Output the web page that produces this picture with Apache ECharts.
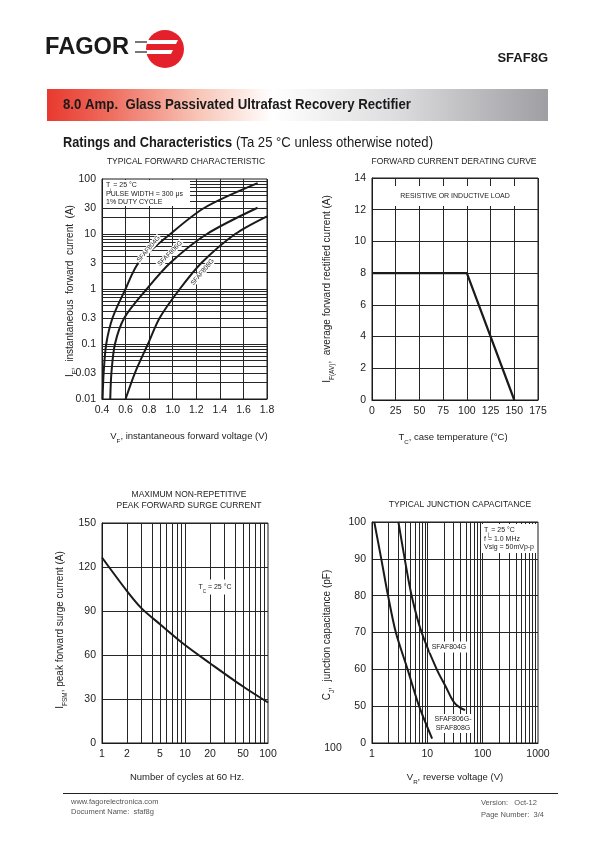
<!DOCTYPE html>
<html><head><meta charset="utf-8">
<script src="https://cdn.jsdelivr.net/npm/echarts@6/dist/echarts.min.js"></script>
<style>html,body{margin:0;padding:0;background:#fff}#c{width:595px;height:842px}</style>
</head><body><div id="c"></div>
<script>
// ---------- DATA ----------
// Chart 1: typical forward characteristic (V, A)
const fwdVoltage804 = [0.405, 0.414, 0.436, 0.49, 0.60, 0.71, 0.98, 1.27, 1.72];
const fwdCurrent804 = [0.01, 0.03, 0.1, 0.3, 1, 3, 10, 30, 84];
const fwdVoltage806 = [0.47, 0.48, 0.51, 0.59, 0.78, 0.98, 1.29, 1.72];
const fwdCurrent806 = [0.01, 0.03, 0.1, 0.3, 1, 3, 10, 30];
const fwdVoltage808 = [0.60, 0.68, 0.79, 0.89, 1.06, 1.245, 1.53, 1.80];
const fwdCurrent808 = [0.01, 0.03, 0.1, 0.3, 1, 3, 10, 21];
const fwdYTicks = [0.01, 0.03, 0.1, 0.3, 1, 3, 10, 30, 100];
const fwdYLabels = ['0.01', '0.03', '0.1', '0.3', '1', '3', '10', '30', '100'];
const fwdXLabels = ['0.4', '0.6', '0.8', '1.0', '1.2', '1.4', '1.6', '1.8'];
// Chart 2: derating curve
const derateTemp = [0, 100, 150];
const derateCurrent = [8, 8, 0];
// Chart 3: surge current
const surgeCycles = [1, 2, 3, 5, 10, 20, 50, 100];
const surgeCurrent = [126.5, 103.6, 91.8, 81, 66.8, 54.4, 38.5, 27.6];
const surgeXTicks = [1, 2, 5, 10, 20, 50, 100];
const surgeXLabels = ['1', '2', '5', '10', '20', '50', '100'];
// Chart 4: junction capacitance
const capVolt804 = [3.0, 3.9, 5.2, 7.9, 14.8, 22, 27, 32, 39, 48];
const capPf804 = [100, 90, 80, 70, 60, 55, 52.3, 50.6, 49.6, 48.9];
const capVolt806 = [1.1, 1.47, 1.95, 2.7, 4.4, 7.1, 12.2];
const capPf806 = [100, 90, 80, 70, 60, 50, 41.2];
const capYTicks = [40, 50, 60, 70, 80, 90, 100];
const capYLabels = ['0', '50', '60', '70', '80', '90', '100'];
const capXTicks = [1, 10, 100, 1000];
const capXLabels = ['1', '10', '100', '1000'];

// ---------- HELPERS ----------
const INK = '#1a1a1a', GRIDC = '#262626', TXT = '#222';
const FONT = "'Liberation Sans', Arial, sans-serif";
function pairs(xs, ys) { return xs.map((x, i) => [x, ys[i]]); }
function logLines(lo, hi) { // grid positions m*10^e strictly inside (lo, hi)
  const out = [];
  for (let e = Math.floor(Math.log10(lo)); e <= Math.ceil(Math.log10(hi)); e++) {
    for (let m = 1; m <= 9; m++) {
      const v = +(m * Math.pow(10, e)).toPrecision(6);
      if (v > lo * 1.0001 && v < hi * 0.9999) out.push(v);
    }
  }
  return out;
}
function nearestLabel(v, ticks, labels) {
  let bi = 0, bd = Infinity;
  ticks.forEach((t, i) => { const d = Math.abs(Math.log(Math.abs(v) + 1e-9) - Math.log(t + 1e-9)); if (d < bd) { bd = d; bi = i; } });
  return labels[bi];
}
const cnv = document.createElement('canvas').getContext('2d');
function measure(text, font) { cnv.font = font; return cnv.measureText(text).width; }

function txt(text, x, y, o) {
  o = o || {};
  return {
    type: 'text', x: x, y: y, z: 100, rotation: o.rot || 0, scaleX: o.sx || 1,
    style: {
      text: text, fill: o.color || TXT,
      font: (o.weight || 'normal') + ' ' + (o.size || 10) + 'px ' + FONT,
      align: o.align || 'center', verticalAlign: o.va || 'middle',
      backgroundColor: o.bg, padding: o.pad, rich: o.rich
    }
  };
}
function rich(base, sub, rest, size) {
  return {
    text: '{a|' + base + '}{s|' + sub + '}{a|' + rest + '}',
    rich: {
      a: { fontSize: size, fontFamily: FONT, fill: TXT, lineHeight: size + 4 },
      s: { fontSize: size * 0.65, fontFamily: FONT, fill: TXT, verticalAlign: 'bottom', lineHeight: size + 4, padding: [0, 0, -2, 0] }
    }
  };
}
function richTxt(base, sub, rest, size, x, y, rot, align) {
  const r = rich(base, sub, rest, size);
  return { type: 'text', x: x, y: y, z: 100, rotation: rot || 0,
    style: { text: r.text, rich: r.rich, align: align || 'center', verticalAlign: 'middle', fill: TXT } };
}

const axisLabelStyle = { color: TXT, fontSize: 10.5, fontFamily: FONT };
function baseAxis(extra) {
  return Object.assign({
    axisLine: { show: true, lineStyle: { color: INK, width: 1 } },
    axisTick: { show: false },
    splitLine: { show: true, lineStyle: { color: GRIDC, width: 1 } },
    axisLabel: Object.assign({ margin: 6 }, axisLabelStyle)
  }, extra);
}
function gridLinesMark(key, vals) {
  return {
    silent: true, symbol: 'none', z: 1, animation: false,
    label: { show: false },
    lineStyle: { color: GRIDC, width: 1, type: 'solid' },
    emphasis: { disabled: true },
    data: vals.map(v => ({ [key]: v }))
  };
}
const curveStyle = { color: INK, width: 2 };
function curve(xi, data, extra) {
  return Object.assign({ type: 'line', xAxisIndex: xi, yAxisIndex: xi, z: 3, smooth: 0.3,
    symbol: 'none', showSymbol: false, lineStyle: curveStyle, data: data }, extra || {});
}

// ---------- OPTION ----------
const grids = [
  { left: 102, top: 179, width: 165, height: 220 },
  { left: 372, top: 178, width: 166, height: 222 },
  { left: 102, top: 523, width: 166, height: 220 },
  { left: 372, top: 522, width: 166, height: 221 }
].map(g => Object.assign({ show: true, borderColor: INK, borderWidth: 1, backgroundColor: 'transparent', containLabel: false, outerBoundsMode: 'none' }, g));

const option = {
  animation: false,
  backgroundColor: '#fff',
  grid: grids,
  xAxis: [
    baseAxis({ gridIndex: 0, type: 'value', min: 0.4, max: 1.8, interval: 0.2,
      axisLabel: Object.assign({ margin: 6, formatter: v => fwdXLabels[Math.round((v - 0.4) / 0.2)] }, axisLabelStyle) }),
    baseAxis({ gridIndex: 1, type: 'value', min: 0, max: 175, interval: 25 }),
    baseAxis({ gridIndex: 2, type: 'log', logBase: 10, min: 1, max: 100, splitLine: { show: false },
      axisLabel: Object.assign({ margin: 6, customValues: surgeXTicks, formatter: v => nearestLabel(v, surgeXTicks, surgeXLabels) }, axisLabelStyle) }),
    baseAxis({ gridIndex: 3, type: 'log', logBase: 10, min: 1, max: 1000, splitLine: { show: false },
      axisLabel: Object.assign({ margin: 6, customValues: capXTicks, formatter: v => nearestLabel(v, capXTicks, capXLabels) }, axisLabelStyle) })
  ],
  yAxis: [
    baseAxis({ gridIndex: 0, type: 'log', logBase: 10, min: 0.01, max: 100, splitLine: { show: false },
      axisLabel: Object.assign({ margin: 6, customValues: fwdYTicks, formatter: v => nearestLabel(v, fwdYTicks, fwdYLabels) }, axisLabelStyle) }),
    baseAxis({ gridIndex: 1, type: 'value', min: 0, max: 14, interval: 2 }),
    baseAxis({ gridIndex: 2, type: 'value', min: 0, max: 150, interval: 30 }),
    baseAxis({ gridIndex: 3, type: 'value', min: 40, max: 100, interval: 10,
      axisLabel: Object.assign({ margin: 6, formatter: v => capYLabels[capYTicks.indexOf(Math.round(v))] }, axisLabelStyle) })
  ],
  series: [
    curve(0, pairs(fwdVoltage804, fwdCurrent804), { markLine: gridLinesMark('yAxis', logLines(0.01, 100)) }),
    curve(0, pairs(fwdVoltage806, fwdCurrent806)),
    curve(0, pairs(fwdVoltage808, fwdCurrent808)),
    { type: 'line', xAxisIndex: 1, yAxisIndex: 1, z: 3, symbol: 'none',
      lineStyle: { color: INK, width: 2.2 }, data: pairs(derateTemp, derateCurrent) },
    curve(2, pairs(surgeCycles, surgeCurrent), { markLine: gridLinesMark('xAxis', logLines(1, 100)) }),
    curve(3, pairs(capVolt804, capPf804), { markLine: gridLinesMark('xAxis', logLines(1, 1000)) }),
    curve(3, pairs(capVolt806, capPf806))
  ]
};

// ---------- PAGE TEXT / DECORATION ----------
const g = [];
// Logo
(function () {
  const f = 'bold 23px ' + FONT;
  g.push(txt('FAGOR', 45, 48, { size: 23, weight: 'bold', align: 'left', color: '#1a1a1a', sx: 84 / measure('FAGOR', f) }));
})();
g.push({ type: 'circle', z: 100, shape: { cx: 165, cy: 49, r: 19 }, style: { fill: '#e4202a' } });
g.push({ type: 'polygon', z: 101, shape: { points: [[140, 40], [178, 40], [176, 44], [140, 44]] }, style: { fill: '#fff' } });
g.push({ type: 'polygon', z: 101, shape: { points: [[140, 50], [173, 50], [171, 54], [140, 54]] }, style: { fill: '#fff' } });
g.push({ type: 'rect', z: 102, shape: { x: 135, y: 41, width: 12, height: 2 }, style: { fill: '#777' } });
g.push({ type: 'rect', z: 102, shape: { x: 135, y: 51, width: 12, height: 2 }, style: { fill: '#777' } });
g.push(txt('SFAF8G', 548, 58, { size: 13, weight: 'bold', align: 'right', color: '#1a1a1a' }));
// Banner
g.push({ type: 'rect', z: 90, shape: { x: 47, y: 89, width: 501, height: 32 },
  style: { fill: new echarts.graphic.LinearGradient(0, 0, 1, 0, [
    { offset: 0, color: '#e8392f' }, { offset: 0.12, color: '#ee6a5c' }, { offset: 0.3, color: '#f8c4b6' },
    { offset: 0.45, color: '#ffffff' }, { offset: 0.7, color: '#dcdcde' }, { offset: 1, color: '#9e9ea3' }]) } });
(function () {
  const t = '8.0 Amp.  Glass Passivated Ultrafast Recovery Rectifier';
  const f = 'bold 15px ' + FONT;
  g.push(txt(t, 63, 105, { size: 15, weight: 'bold', align: 'left', color: '#1a1a1a', sx: 348 / measure(t, f) }));
  const t2 = 'Ratings and Characteristics', f2 = 'bold 14px ' + FONT;
  g.push(txt(t2, 63, 143, { size: 14, weight: 'bold', align: 'left', color: '#1a1a1a', sx: 169 / measure(t2, f2) }));
  const t3 = '(Ta 25 °C unless otherwise noted)', f3 = 'normal 14px ' + FONT;
  g.push(txt(t3, 236, 143, { size: 14, align: 'left', color: '#1a1a1a', sx: 197 / measure(t3, f3) }));
})();
// Chart titles
g.push(txt('TYPICAL FORWARD CHARACTERISTIC', 186, 161.5, { size: 8.5 }));
g.push(txt('FORWARD CURRENT DERATING CURVE', 454, 161.5, { size: 8.5 }));
g.push(txt('MAXIMUM NON-REPETITIVE', 189, 494.5, { size: 8.5 }));
g.push(txt('PEAK FORWARD SURGE CURRENT', 189, 505.5, { size: 8.5 }));
g.push(txt('TYPICAL JUNCTION CAPACITANCE', 460, 505, { size: 8.5 }));
// Axis names
g.push(richTxt('V', 'F', ', instantaneous forward voltage (V)', 9.5, 189, 436));
g.push(richTxt('T', 'C', ', case temperature (°C)', 9.5, 453, 437));
g.push(txt('Number of cycles at 60 Hz.', 187, 777, { size: 9.5 }));
g.push(richTxt('V', 'R', ', reverse voltage (V)', 9.5, 455, 777));
g.push(richTxt('I', 'F', ',  instantaneous  forward  current  (A)', 10, 70, 291, Math.PI / 2));
g.push(richTxt('I', 'F(AV)', ',  average forward rectified current (A)', 10, 327, 289, Math.PI / 2));
g.push(richTxt('I', 'FSM', ', peak forward surge current (A)', 10, 60, 630, Math.PI / 2));
g.push(richTxt('C', 'J', ',  junction capacitance (pF)', 10, 327, 635, Math.PI / 2));
// Chart 1 annotations
g.push({ type: 'rect', z: 99, shape: { x: 103, y: 180, width: 87, height: 26 }, style: { fill: '#fff' } });
g.push(richTxt('T', 'j', ' = 25 °C', 7, 106, 185.5, 0, 'left'));
g.push(txt('PULSE WIDTH = 300 μs', 106, 194, { size: 7, align: 'left' }));
g.push(txt('1% DUTY CYCLE', 106, 202, { size: 7, align: 'left' }));
g.push(txt('SFAF804G', 148.5, 249, { size: 6.5, rot: 0.87, bg: '#fff', pad: [0, 1] }));
g.push(txt('SFAF806G', 170, 253.5, { size: 6.5, rot: 0.8, bg: '#fff', pad: [0, 1] }));
g.push(txt('SFAF808G', 202.5, 272, { size: 6.5, rot: 0.87, bg: '#fff', pad: [0, 1] }));
// Chart 2 annotation
g.push({ type: 'rect', z: 99, shape: { x: 395, y: 186, width: 120, height: 20 }, style: { fill: '#fff' } });
g.push(txt('RESISTIVE OR INDUCTIVE LOAD', 455, 196, { size: 7 }));
// Chart 3 annotation
(function () {
  const r = rich('T', 'C', ' = 25 °C', 7);
  g.push({ type: 'text', x: 215, y: 587, z: 100, style: { text: r.text, rich: r.rich, align: 'center', verticalAlign: 'middle', backgroundColor: '#fff', padding: [2, 3] } });
})();
// Chart 4 annotations
g.push({ type: 'rect', z: 99, shape: { x: 481, y: 524, width: 55, height: 29 }, style: { fill: '#fff' } });
g.push(richTxt('T', 'j', ' = 25 °C', 7, 484, 530, 0, 'left'));
g.push(txt('f = 1.0 MHz', 484, 539, { size: 7, align: 'left' }));
g.push(txt('Vsig = 50mVp-p', 484, 547, { size: 7, align: 'left' }));
g.push(txt('SFAF804G', 449, 647, { size: 7, bg: '#fff', pad: [2, 2] }));
g.push({ type: 'rect', z: 99, shape: { x: 434, y: 714, width: 38, height: 19 }, style: { fill: '#fff' } });
g.push(txt('SFAF806G-', 453, 719.5, { size: 7 }));
g.push(txt('SFAF808G', 453, 728, { size: 7 }));
g.push(txt('100', 333, 748, { size: 10.5 }));
// Footer
g.push({ type: 'line', z: 100, shape: { x1: 63, y1: 793.5, x2: 558, y2: 793.5 }, style: { stroke: '#222', lineWidth: 1 } });
g.push(txt('www.fagorelectronica.com', 71, 802, { size: 7.5, align: 'left', color: '#555' }));
g.push(txt('Document Name:  sfaf8g', 71, 811.5, { size: 7.5, align: 'left', color: '#555' }));
g.push(txt('Version:   Oct-12', 481, 803, { size: 7.5, align: 'left', color: '#555' }));
g.push(txt('Page Number:  3/4', 481, 814.5, { size: 7.5, align: 'left', color: '#555' }));

option.graphic = { elements: g };

const chart = echarts.init(document.getElementById('c'), null, { renderer: 'canvas', width: 595, height: 842 });
chart.setOption(option);
</script>
</body></html>
